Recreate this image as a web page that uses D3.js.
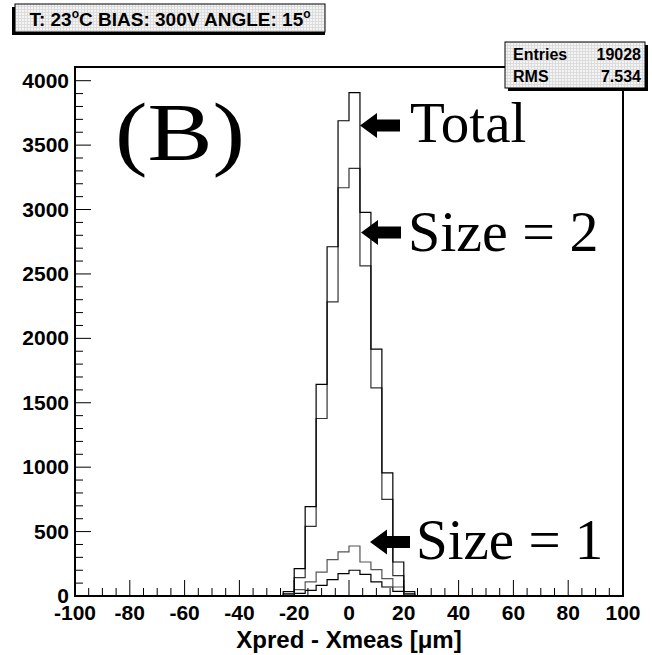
<!DOCTYPE html>
<html><head><meta charset="utf-8">
<script src="https://cdn.jsdelivr.net/npm/d3@7"></script>
<style>
html,body{margin:0;padding:0;background:#fff;}
svg{display:block;}
</style></head>
<body>
<script>
// ---- data (bin lower edges, bin width 4 µm) ----
const binStarts = [-24,-20,-16,-12,-8,-4,0,4,8,12,16,20];
const binWidth = 4;
const totalCounts = [35,213,693,1642,2711,3689,3907,2978,1916,955,264,35];
const size2Counts = [20,143,540,1378,2283,3169,3320,2563,1616,750,158,20];
const size1Counts = [10,50,109,186,283,342,388,264,205,135,70,10];
const size3Counts = [5,20,44,83,127,174,200,168,109,70,36,5];
const xTicks = [-100,-80,-60,-40,-20,0,20,40,60,80,100];
const yTicks = [0,500,1000,1500,2000,2500,3000,3500,4000];
const statsLabels = ["Entries","RMS"];
const statsValues = ["19028","7.534"];

const W=652,H=655;
const m={left:75,right:623,top:67,bottom:596};
const svg=d3.select("body").append("svg").attr("width",W).attr("height",H);

const x=d3.scaleLinear().domain([-100,100]).range([m.left,m.right]);
const y=d3.scaleLinear().domain([0,4000]).range([m.bottom,80.7]);

function stepPath(counts){
  const pts=[];
  binStarts.forEach((b,i)=>{
    pts.push([x(b),y(counts[i])]);
    pts.push([x(b+binWidth),y(counts[i])]);
  });
  const first=[x(binStarts[0]),y(0)], last=[x(binStarts[binStarts.length-1]+binWidth),y(0)];
  return d3.line()([first,...pts,last]);
}

// histograms
const g=svg.append("g");
g.append("path").attr("d",stepPath(size3Counts)).attr("fill","none").attr("stroke","#000").attr("stroke-width",1.2);
g.append("path").attr("d",stepPath(size1Counts)).attr("fill","none").attr("stroke","#555").attr("stroke-width",1.2);
g.append("path").attr("d",stepPath(size2Counts)).attr("fill","none").attr("stroke","#333").attr("stroke-width",1.2);
g.append("path").attr("d",stepPath(totalCounts)).attr("fill","none").attr("stroke","#000").attr("stroke-width",1.2);

// frame
svg.append("rect").attr("x",m.left).attr("y",m.top).attr("width",m.right-m.left).attr("height",m.bottom-m.top)
  .attr("fill","none").attr("stroke","#000").attr("stroke-width",2);

// ticks
const xMinor=d3.range(-100,100.1,5);
svg.append("g").selectAll("line").data(xMinor).join("line")
  .attr("x1",d=>x(d)).attr("x2",d=>x(d)).attr("y1",m.bottom).attr("y2",d=>m.bottom-(d%20===0?16:8))
  .attr("stroke","#000").attr("stroke-width",1);
const yMinor=d3.range(0,4001,100);
svg.append("g").selectAll("line").data(yMinor).join("line")
  .attr("y1",d=>y(d)).attr("y2",d=>y(d)).attr("x1",m.left).attr("x2",d=>m.left+(d%500===0?16:8))
  .attr("stroke","#000").attr("stroke-width",1);

const bold="'Liberation Sans',Arial,sans-serif";
svg.append("g").selectAll("text").data(xTicks).join("text")
  .attr("x",d=>x(d)).attr("y",620).attr("text-anchor","middle")
  .attr("font-family",bold).attr("font-weight","bold").attr("font-size",21).text(d=>d);
svg.append("g").selectAll("text").data(yTicks).join("text")
  .attr("x",69).attr("y",d=>y(d)+7).attr("text-anchor","end")
  .attr("font-family",bold).attr("font-weight","bold").attr("font-size",21).text(d=>d);
svg.append("text").attr("x",349).attr("y",648).attr("text-anchor","middle")
  .attr("font-family",bold).attr("font-weight","bold").attr("font-size",24)
  .text("Xpred - Xmeas [μm]");

// pattern
const defs=svg.append("defs");
const pat=defs.append("pattern").attr("id","hatch").attr("width",3).attr("height",3).attr("patternUnits","userSpaceOnUse");
pat.append("rect").attr("width",3).attr("height",3).attr("fill","#f4f4f4");
pat.append("path").attr("d","M0,0.5H3M0.5,0V3").attr("stroke","#dcdcdc").attr("stroke-width",1);

// title box
svg.append("rect").attr("x",12).attr("y",7).attr("width",313).attr("height",28).attr("fill","#000");
svg.append("rect").attr("x",15).attr("y",4).attr("width",310).attr("height",28).attr("fill","url(#hatch)").attr("stroke","#000").attr("stroke-width",1);
const tt=svg.append("text").attr("x",170).attr("y",26).attr("text-anchor","middle")
  .attr("font-family",bold).attr("font-weight","bold").attr("font-size",19);
tt.append("tspan").text("T: 23");
tt.append("tspan").attr("font-size",12).attr("dy",-8).text("o");
tt.append("tspan").attr("dy",8).text("C BIAS: 300V ANGLE: 15");
tt.append("tspan").attr("font-size",12).attr("dy",-8).text("o");

// stats box
svg.append("rect").attr("x",508).attr("y",45).attr("width",140).attr("height",46).attr("fill","#000");
svg.append("rect").attr("x",505).attr("y",42).attr("width",140).attr("height",46).attr("fill","url(#hatch)").attr("stroke","#000").attr("stroke-width",1);
statsLabels.forEach((l,i)=>{
  svg.append("text").attr("x",513).attr("y",60+i*22).attr("font-family",bold).attr("font-weight","bold").attr("font-size",16).text(l);
  svg.append("text").attr("x",641).attr("y",60+i*22).attr("text-anchor","end").attr("font-family",bold).attr("font-weight","bold").attr("font-size",16).text(statsValues[i]);
});

// annotations
const serif="'Liberation Serif','Times New Roman',serif";
svg.append("text").attr("x",115).attr("y",160).attr("font-family",serif).attr("font-size",82)
  .attr("textLength",130).attr("lengthAdjust","spacingAndGlyphs").text("(B)");
function arrow(x0,yc){
  const p=d3.path();
  p.moveTo(x0,yc); p.lineTo(x0+17,yc-12.5); p.lineTo(x0+17,yc-6); p.lineTo(x0+40,yc-6);
  p.lineTo(x0+40,yc+6); p.lineTo(x0+17,yc+6); p.lineTo(x0+17,yc+12.5); p.closePath();
  svg.append("path").attr("d",p.toString()).attr("fill","#000");
}
arrow(360,125.5); arrow(361,232.5); arrow(370,542);
svg.append("text").attr("x",410).attr("y",142).attr("font-family",serif).attr("font-size",57).text("Total");
svg.append("text").attr("x",408).attr("y",251).attr("font-family",serif).attr("font-size",58).text("Size = 2");
svg.append("text").attr("x",416).attr("y",559).attr("font-family",serif).attr("font-size",57).text("Size = 1");
</script>
</body></html>
